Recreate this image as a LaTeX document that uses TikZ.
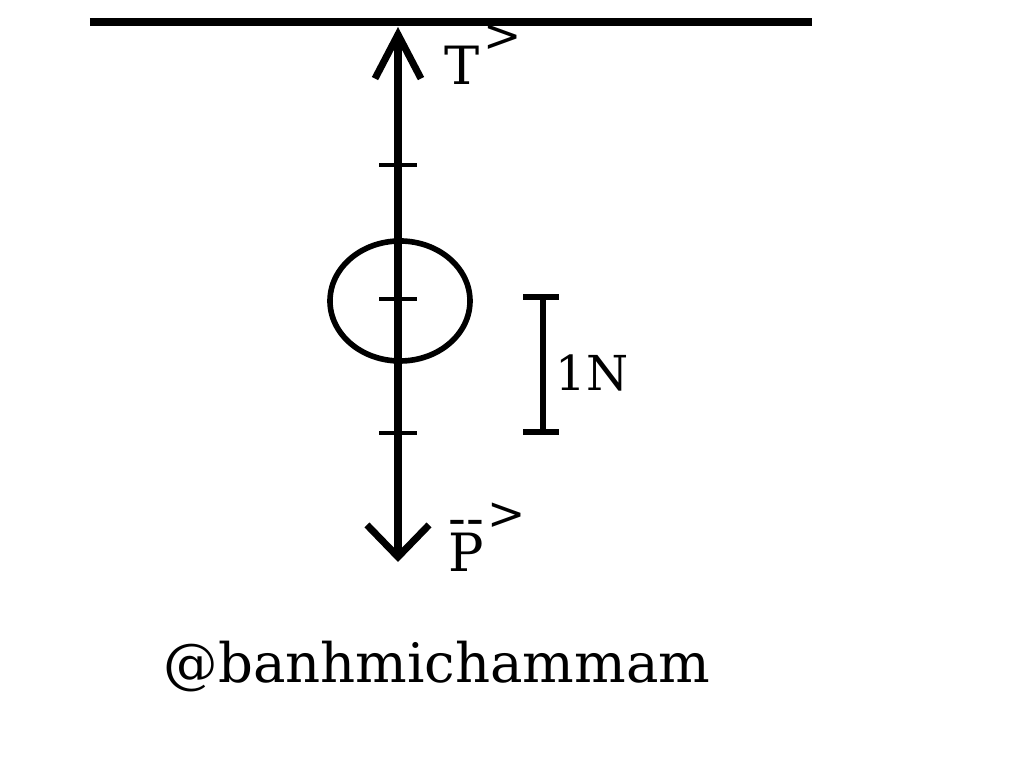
\documentclass[tikz,border=0pt]{standalone}
\usepackage{fontspec}
\setmainfont{DejaVu Serif}
\usetikzlibrary{arrows.meta}

\begin{document}
\begin{tikzpicture}[every node/.style={inner sep=0pt},
  lbl/.style={font=\fontsize{15}{15}\selectfont},
  rope/.style={line width=2pt},
  tick/.style={line width=1.2pt},
  bar/.style={line width=1.6pt}]
\useasboundingbox (0,0) rectangle (10.24,-7.66);

\coordinate (cl) at (0.90,-0.22);
\coordinate (cr) at (8.12,-0.22);
\draw[rope] (cl) -- (cr);

\coordinate (top) at (3.98,-0.27);
\coordinate (bot) at (3.98,-5.62);
\draw[rope,{Straight Barb[length=4.4mm,width=4.6mm]}-{Straight Barb[length=3.2mm,width=6.2mm]}] (top) -- (bot);
\foreach \y in {1.65,2.99,4.33}
  \draw[tick] (3.79,-\y) -- (4.17,-\y);
\draw[bar] (4.00,-3.01) ellipse (0.70 and 0.60);

\coordinate (s1) at (5.43,-2.97);
\coordinate (s2) at (5.43,-4.32);
\draw[bar] (s1) -- (s2);
\draw[bar] ([xshift=-2mm]s1) -- ([xshift=1.6mm]s1);
\draw[bar] ([xshift=-2mm]s2) -- ([xshift=1.6mm]s2);

\node[lbl] (T) at (4.62,-0.65) {T};
\node[font=\fontsize{13}{13}\selectfont] (Tv) at (5.03,-0.38) {>};
\node[lbl,align=center,anchor=south] (P) at (4.66,-5.72) {-{}-\\[-5pt]P};
\node[font=\fontsize{13}{13}\selectfont] (Pv) at (5.07,-5.16) {>};
\node[font=\fontsize{13.7}{14}\selectfont] (unit) at (5.92,-3.73) {1N};
\node[font=\fontsize{15.5}{15}\selectfont] (sig) at (4.37,-6.67) {@banhmichammam};
\end{tikzpicture}
\end{document}
